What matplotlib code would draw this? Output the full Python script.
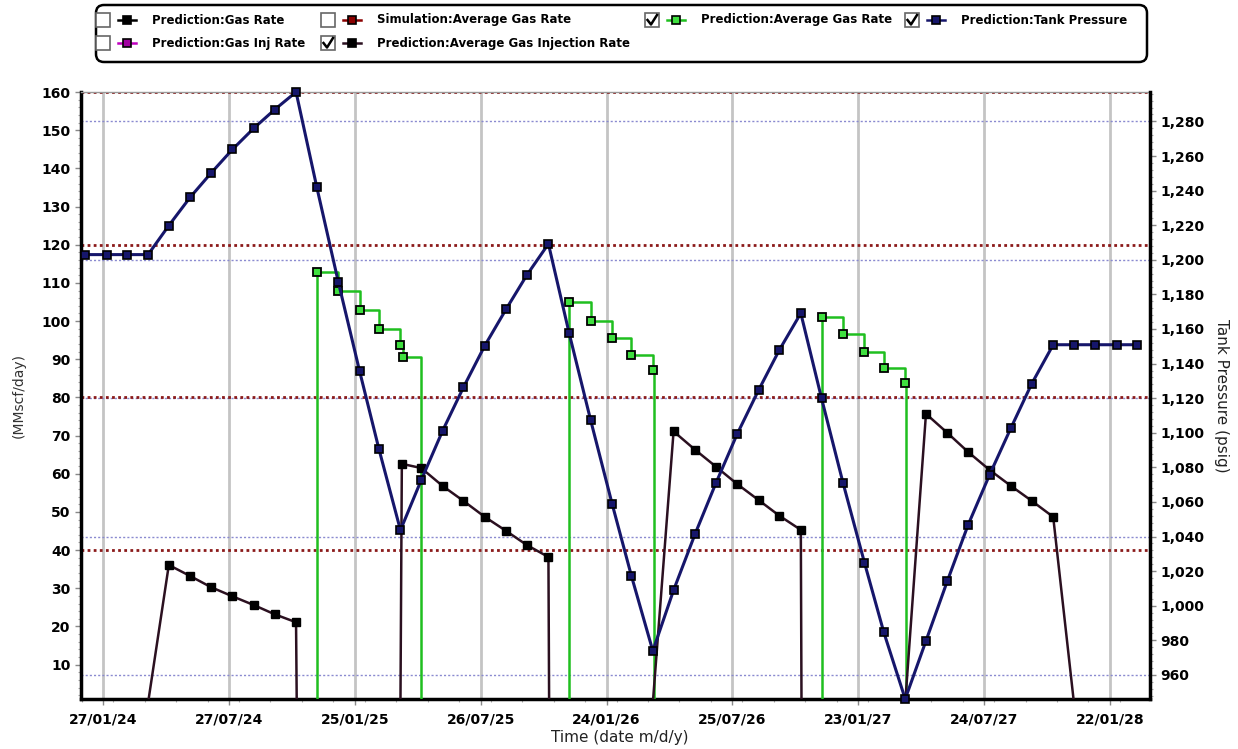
import numpy as np
import pandas as pd
import matplotlib
matplotlib.use('Agg')
import matplotlib.pyplot as plt
from matplotlib.patches import FancyBboxPatch, Rectangle
from matplotlib.ticker import MultipleLocator, FuncFormatter, FixedLocator
from matplotlib.transforms import blended_transform_factory
import matplotlib.dates as mdates

# monthly tank pressure (psig), Jan 2024 .. Mar 2028
months = pd.date_range('2024-01-01', '2028-03-01', freq='MS')
tank_pressure = [1203.0, 1203.0, 1203.0, 1203.0, 1219.8, 1236.2, 1250.1, 1263.8, 1276.1, 1286.8,
                 1297.0, 1242.0, 1187.4, 1135.5, 1090.4, 1043.7, 1072.6, 1101.2, 1126.2, 1150.4,
                 1171.6, 1191.3, 1209.2, 1157.5, 1107.4, 1059.1, 1017.3, 973.9, 1009.0, 1041.4,
                 1070.7, 1099.3, 1124.7, 1147.9, 1169.1, 1119.9, 1071.1, 1025.0, 984.7, 946.1,
                 979.7, 1014.4, 1046.8, 1075.7, 1102.9, 1128.4, 1150.9, 1150.9, 1150.9, 1150.9,
                 1150.9]

# average gas rate (MMscf/day), step series
gas_dates = pd.to_datetime(['2024-01-01', '2024-12-01', '2025-01-01', '2025-02-01', '2025-03-01',
                            '2025-04-01', '2025-04-04', '2025-05-01',
                            '2025-12-01', '2026-01-01', '2026-02-01', '2026-03-01', '2026-04-01',
                            '2026-04-02',
                            '2026-12-01', '2027-01-01', '2027-02-01', '2027-03-01', '2027-04-01',
                            '2027-04-02', '2028-03-01'])
gas_rate = np.array([0, 112.9, 107.8, 102.9, 97.9, 93.6, 90.6, 0,
                     104.9, 100.1, 95.6, 91.0, 87.1, 0,
                     101.0, 96.5, 92.0, 87.7, 83.8, 0, 0])

# average gas injection rate (MMscf/day)
inj_dates = pd.to_datetime(['2024-01-01', '2024-04-01', '2024-05-01', '2024-06-01', '2024-07-01',
                            '2024-08-01', '2024-09-01', '2024-10-01', '2024-11-01', '2024-11-02',
                            '2025-04-01', '2025-04-03', '2025-05-01', '2025-06-01', '2025-07-01',
                            '2025-08-01', '2025-09-01', '2025-10-01', '2025-11-01', '2025-11-02',
                            '2026-04-01', '2026-05-01', '2026-06-01', '2026-07-01', '2026-08-01',
                            '2026-09-01', '2026-10-01', '2026-11-01', '2026-11-02',
                            '2027-04-01', '2027-05-01', '2027-06-01', '2027-07-01', '2027-08-01',
                            '2027-09-01', '2027-10-01', '2027-11-01', '2027-12-01', '2028-03-01'])
inj_rate = np.array([0, 0, 36.1, 33.2, 30.3, 27.9, 25.6, 23.2, 21.1, 0,
                     0, 62.6, 61.5, 56.8, 52.9, 48.7, 45.0, 41.3, 38.2, 0,
                     0, 71.1, 66.3, 61.9, 57.3, 53.1, 49.0, 45.3, 0,
                     0, 75.7, 70.7, 65.7, 61.0, 56.8, 52.9, 48.7, 0, 0])

legend_labels = ['Prediction:Gas Rate', 'Simulation:Average Gas Rate',
                 'Prediction:Average Gas Rate', 'Prediction:Tank Pressure',
                 'Prediction:Gas Inj Rate', 'Prediction:Average Gas Injection Rate']
legend_checked = [False, False, True, True, False, True]
legend_colors = ['black', '#8b0000', '#1fbf1f', '#16166b', '#c000c0', '#2b1020']
legend_faces = ['black', '#8b0000', '#3fe03f', '#16166b', '#a000a0', 'black']

GREEN = '#1fbf1f'
NAVY = '#16166b'
INJ = '#2b1020'

fig = plt.figure(figsize=(12.38, 7.49), dpi=100)
ax = fig.add_axes([81 / 1238, 50 / 749, 1069 / 1238, 607 / 749])
ax2 = ax.twinx()

# left axis series
ax.plot(gas_dates, gas_rate, drawstyle='steps-post', color=GREEN, lw=1.8, zorder=3)
m = gas_rate > 0
ax.plot(gas_dates[m], gas_rate[m], ls='none', marker='s', ms=5.5, mfc='#3fe03f', mec='black',
        mew=1.3, zorder=4)
ax.plot(inj_dates, inj_rate, color=INJ, lw=1.8, zorder=3)
m = inj_rate > 0
ax.plot(inj_dates[m], inj_rate[m], ls='none', marker='s', ms=5.5, mfc='black', mec='black', zorder=4)

# right axis series
ax2.plot(months, tank_pressure, color=NAVY, lw=2.2, marker='s', ms=5.5, mfc=NAVY, mec='black',
         mew=1.2, clip_on=False, zorder=5)

ax.set_xlim(pd.Timestamp('2023-12-26'), pd.Timestamp('2028-03-20'))
ax.set_ylim(1, 160)
ax2.set_ylim(min(tank_pressure), max(tank_pressure))

# gridlines: right-axis (blue) drawn inside ax, under the left-axis (red) ones
blend = blended_transform_factory(ax.transAxes, ax2.transData)
for v in [960, 1040, 1120, 1200, 1280]:
    ax.plot([0, 1], [v, v], transform=blend, color='#8a8ad0', lw=1, ls=(0, (1.5, 1.5)), zorder=1)
for v in [40, 80, 120, 160]:
    ax.axhline(v, color='#8b1a1a', lw=2, ls=(0, (1, 1.2)), zorder=1.2)

major = pd.date_range('2024-01-27', periods=9, freq='182D')
minor = pd.date_range('2023-12-27', '2028-03-20', freq='1092h')
ax.xaxis.set_major_locator(FixedLocator(mdates.date2num(major)))
ax.xaxis.set_minor_locator(FixedLocator(mdates.date2num(minor)))
ax.xaxis.set_major_formatter(mdates.DateFormatter('%d/%m/%y'))
ax.grid(True, axis='x', which='major', color='#c4c4c4', lw=2, zorder=0)
ax.set_axisbelow(True)

ax.yaxis.set_major_locator(MultipleLocator(10))
ax.yaxis.set_minor_locator(MultipleLocator(2))
ax2.yaxis.set_major_locator(MultipleLocator(20))
ax2.yaxis.set_minor_locator(MultipleLocator(4))
ax2.yaxis.set_major_formatter(FuncFormatter(lambda v, p: f'{v:,.0f}'))

for a in (ax, ax2):
    a.tick_params(which='major', direction='out', length=4, width=1, color='#888888',
                  labelsize=10, labelcolor='black')
    a.tick_params(which='minor', direction='out', length=2, width=0.8, color='#aaaaaa')
    for lab in a.get_xticklabels() + a.get_yticklabels():
        lab.set_fontweight('bold')
ax.tick_params(axis='x', pad=6)

ax.spines['left'].set_linewidth(2.5)
ax.spines['bottom'].set_linewidth(2.5)
ax.spines['right'].set_visible(False)
ax.spines['top'].set_color('#999999')
ax.spines['top'].set_linewidth(1)
ax2.spines['right'].set_linewidth(2.5)
for s in ['left', 'bottom', 'top']:
    ax2.spines[s].set_visible(False)

ax.set_ylabel('(MMscf/day)', fontsize=10, color='#333333')
ax.yaxis.set_label_coords(-0.052, 0.5)
ax2.set_ylabel('Tank Pressure (psig)', fontsize=11, color='#222222', rotation=270, va='center')
ax2.yaxis.set_label_coords(1.067, 0.5)
ax.set_xlabel('Time (date m/d/y)', fontsize=11, color='#222222', va='center')
ax.xaxis.set_label_coords(0.504, -0.064)

# legend strip drawn in pixel coordinates
lax = fig.add_axes([0, 1 - 70 / 749, 1, 70 / 749])
lax.set_xlim(0, 1238)
lax.set_ylim(70, 0)
lax.axis('off')
lax.add_patch(FancyBboxPatch((96, 5), 1051, 57, boxstyle='round,pad=0,rounding_size=8',
                             fc='white', ec='black', lw=1.8))
col_x = [103, 328, 652, 912, 103, 328]
row_y = [20, 20, 20, 20, 43, 43]
for lbl, chk, lc, fc, x, y in zip(legend_labels, legend_checked, legend_colors, legend_faces,
                                  col_x, row_y):
    lax.add_patch(Rectangle((x - 7, y - 7), 14, 14, fc='white', ec='#666666', lw=1.2))
    if chk:
        lax.plot([x - 4.5, x - 1, x + 5], [y, y + 4.5, y - 5], color='black', lw=1.8)
    lax.plot([x + 15, x + 33], [y, y], color=lc, lw=1.8)
    lax.plot([x + 24], [y], marker='s', ms=5.5, mfc=fc, mec='black', mew=1.2)
    lax.text(x + 49, y, lbl, fontsize=8.5, fontweight='bold', va='center', ha='left')

fig.savefig('out.png', dpi=100)
